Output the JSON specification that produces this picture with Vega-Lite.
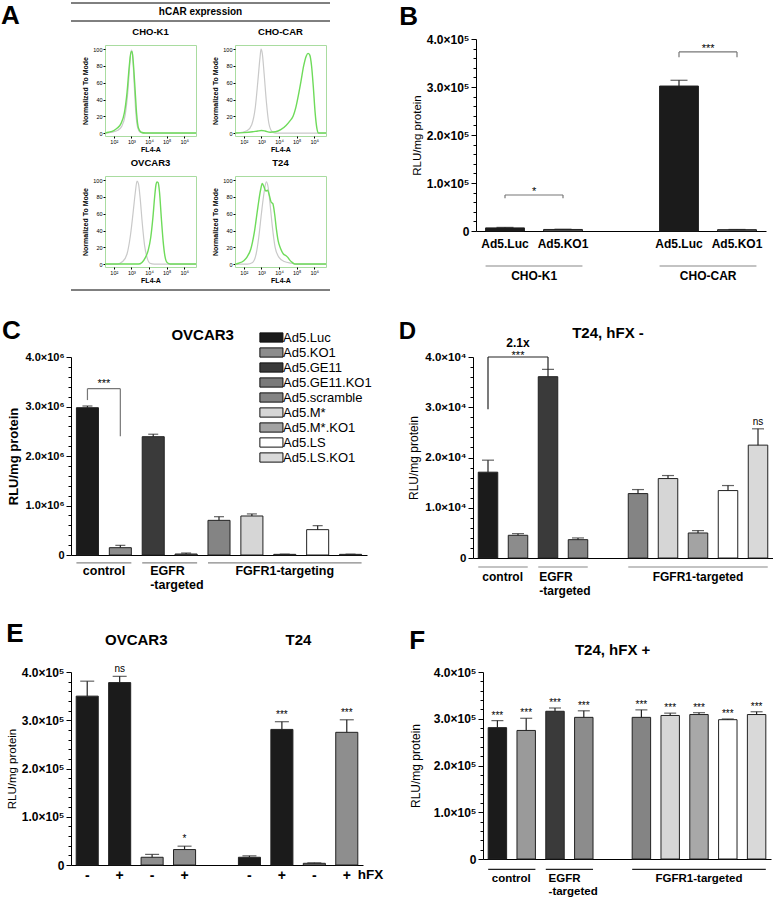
{
  "$schema": "https://vega.github.io/schema/vega-lite/v6.json",
  "padding": {"top": 2, "left": 0, "right": 0, "bottom": 0},
  "background": "white",
  "config": {
    "font": "Liberation Sans",
    "view": {"stroke": null},
    "axis": {"grid": false, "domainColor": "#000", "tickColor": "#000", "labelColor": "#000", "titleColor": "#000", "labelFontWeight": "bold", "titleFontWeight": "normal", "domainWidth": 1, "tickWidth": 1},
    "title": {"fontWeight": "bold", "color": "#000"},
    "text": {"color": "#000"}
  },
  "datasets": {
    "header": [{"label": "hCAR expression"}],
    "hist": [
      {"cell":"CHO-K1","stain":"isotype","log10_FL4A":1.5,"pct":0},{"cell":"CHO-K1","stain":"isotype","log10_FL4A":1.9,"pct":1},{"cell":"CHO-K1","stain":"isotype","log10_FL4A":2.2,"pct":3},{"cell":"CHO-K1","stain":"isotype","log10_FL4A":2.45,"pct":8},{"cell":"CHO-K1","stain":"isotype","log10_FL4A":2.65,"pct":22},{"cell":"CHO-K1","stain":"isotype","log10_FL4A":2.8,"pct":50},{"cell":"CHO-K1","stain":"isotype","log10_FL4A":2.92,"pct":85},{"cell":"CHO-K1","stain":"isotype","log10_FL4A":3.0,"pct":99},{"cell":"CHO-K1","stain":"isotype","log10_FL4A":3.06,"pct":95},{"cell":"CHO-K1","stain":"isotype","log10_FL4A":3.15,"pct":62},{"cell":"CHO-K1","stain":"isotype","log10_FL4A":3.25,"pct":25},{"cell":"CHO-K1","stain":"isotype","log10_FL4A":3.35,"pct":7},{"cell":"CHO-K1","stain":"isotype","log10_FL4A":3.5,"pct":1},{"cell":"CHO-K1","stain":"isotype","log10_FL4A":3.8,"pct":0},{"cell":"CHO-K1","stain":"isotype","log10_FL4A":6.67,"pct":0},
      {"cell":"CHO-K1","stain":"hCAR","log10_FL4A":1.5,"pct":0},{"cell":"CHO-K1","stain":"hCAR","log10_FL4A":1.7,"pct":1},{"cell":"CHO-K1","stain":"hCAR","log10_FL4A":2.0,"pct":3},{"cell":"CHO-K1","stain":"hCAR","log10_FL4A":2.2,"pct":6},{"cell":"CHO-K1","stain":"hCAR","log10_FL4A":2.4,"pct":11},{"cell":"CHO-K1","stain":"hCAR","log10_FL4A":2.6,"pct":24},{"cell":"CHO-K1","stain":"hCAR","log10_FL4A":2.75,"pct":48},{"cell":"CHO-K1","stain":"hCAR","log10_FL4A":2.88,"pct":80},{"cell":"CHO-K1","stain":"hCAR","log10_FL4A":2.98,"pct":97},{"cell":"CHO-K1","stain":"hCAR","log10_FL4A":3.04,"pct":97},{"cell":"CHO-K1","stain":"hCAR","log10_FL4A":3.1,"pct":86},{"cell":"CHO-K1","stain":"hCAR","log10_FL4A":3.2,"pct":55},{"cell":"CHO-K1","stain":"hCAR","log10_FL4A":3.3,"pct":22},{"cell":"CHO-K1","stain":"hCAR","log10_FL4A":3.4,"pct":6},{"cell":"CHO-K1","stain":"hCAR","log10_FL4A":3.55,"pct":1},{"cell":"CHO-K1","stain":"hCAR","log10_FL4A":3.8,"pct":0},{"cell":"CHO-K1","stain":"hCAR","log10_FL4A":6.67,"pct":0},
      {"cell":"CHO-CAR","stain":"isotype","log10_FL4A":1.5,"pct":0},{"cell":"CHO-CAR","stain":"isotype","log10_FL4A":1.9,"pct":1},{"cell":"CHO-CAR","stain":"isotype","log10_FL4A":2.2,"pct":3},{"cell":"CHO-CAR","stain":"isotype","log10_FL4A":2.45,"pct":10},{"cell":"CHO-CAR","stain":"isotype","log10_FL4A":2.65,"pct":30},{"cell":"CHO-CAR","stain":"isotype","log10_FL4A":2.8,"pct":62},{"cell":"CHO-CAR","stain":"isotype","log10_FL4A":2.92,"pct":90},{"cell":"CHO-CAR","stain":"isotype","log10_FL4A":2.98,"pct":100},{"cell":"CHO-CAR","stain":"isotype","log10_FL4A":3.05,"pct":95},{"cell":"CHO-CAR","stain":"isotype","log10_FL4A":3.15,"pct":72},{"cell":"CHO-CAR","stain":"isotype","log10_FL4A":3.28,"pct":38},{"cell":"CHO-CAR","stain":"isotype","log10_FL4A":3.42,"pct":12},{"cell":"CHO-CAR","stain":"isotype","log10_FL4A":3.6,"pct":2},{"cell":"CHO-CAR","stain":"isotype","log10_FL4A":3.8,"pct":0},{"cell":"CHO-CAR","stain":"isotype","log10_FL4A":6.67,"pct":0},
      {"cell":"CHO-CAR","stain":"hCAR","log10_FL4A":1.5,"pct":0},{"cell":"CHO-CAR","stain":"hCAR","log10_FL4A":2.0,"pct":0.5},{"cell":"CHO-CAR","stain":"hCAR","log10_FL4A":2.5,"pct":1.5},{"cell":"CHO-CAR","stain":"hCAR","log10_FL4A":2.8,"pct":2.5},{"cell":"CHO-CAR","stain":"hCAR","log10_FL4A":3.0,"pct":3},{"cell":"CHO-CAR","stain":"hCAR","log10_FL4A":3.2,"pct":2.5},{"cell":"CHO-CAR","stain":"hCAR","log10_FL4A":3.5,"pct":1},{"cell":"CHO-CAR","stain":"hCAR","log10_FL4A":3.8,"pct":1.5},{"cell":"CHO-CAR","stain":"hCAR","log10_FL4A":4.1,"pct":4},{"cell":"CHO-CAR","stain":"hCAR","log10_FL4A":4.4,"pct":9},{"cell":"CHO-CAR","stain":"hCAR","log10_FL4A":4.6,"pct":14},{"cell":"CHO-CAR","stain":"hCAR","log10_FL4A":4.8,"pct":20},{"cell":"CHO-CAR","stain":"hCAR","log10_FL4A":4.95,"pct":30},{"cell":"CHO-CAR","stain":"hCAR","log10_FL4A":5.1,"pct":45},{"cell":"CHO-CAR","stain":"hCAR","log10_FL4A":5.25,"pct":62},{"cell":"CHO-CAR","stain":"hCAR","log10_FL4A":5.4,"pct":80},{"cell":"CHO-CAR","stain":"hCAR","log10_FL4A":5.55,"pct":92},{"cell":"CHO-CAR","stain":"hCAR","log10_FL4A":5.65,"pct":95},{"cell":"CHO-CAR","stain":"hCAR","log10_FL4A":5.75,"pct":93},{"cell":"CHO-CAR","stain":"hCAR","log10_FL4A":5.85,"pct":80},{"cell":"CHO-CAR","stain":"hCAR","log10_FL4A":5.95,"pct":55},{"cell":"CHO-CAR","stain":"hCAR","log10_FL4A":6.05,"pct":25},{"cell":"CHO-CAR","stain":"hCAR","log10_FL4A":6.15,"pct":6},{"cell":"CHO-CAR","stain":"hCAR","log10_FL4A":6.25,"pct":0},{"cell":"CHO-CAR","stain":"hCAR","log10_FL4A":6.67,"pct":0},
      {"cell":"OVCAR3","stain":"isotype","log10_FL4A":1.5,"pct":0},{"cell":"OVCAR3","stain":"isotype","log10_FL4A":2.2,"pct":0},{"cell":"OVCAR3","stain":"isotype","log10_FL4A":2.5,"pct":3},{"cell":"OVCAR3","stain":"isotype","log10_FL4A":2.75,"pct":12},{"cell":"OVCAR3","stain":"isotype","log10_FL4A":2.95,"pct":35},{"cell":"OVCAR3","stain":"isotype","log10_FL4A":3.1,"pct":62},{"cell":"OVCAR3","stain":"isotype","log10_FL4A":3.22,"pct":85},{"cell":"OVCAR3","stain":"isotype","log10_FL4A":3.32,"pct":99},{"cell":"OVCAR3","stain":"isotype","log10_FL4A":3.4,"pct":96},{"cell":"OVCAR3","stain":"isotype","log10_FL4A":3.5,"pct":78},{"cell":"OVCAR3","stain":"isotype","log10_FL4A":3.62,"pct":48},{"cell":"OVCAR3","stain":"isotype","log10_FL4A":3.75,"pct":22},{"cell":"OVCAR3","stain":"isotype","log10_FL4A":3.9,"pct":7},{"cell":"OVCAR3","stain":"isotype","log10_FL4A":4.05,"pct":1},{"cell":"OVCAR3","stain":"isotype","log10_FL4A":4.3,"pct":0},{"cell":"OVCAR3","stain":"isotype","log10_FL4A":6.67,"pct":0},
      {"cell":"OVCAR3","stain":"hCAR","log10_FL4A":1.5,"pct":0},{"cell":"OVCAR3","stain":"hCAR","log10_FL4A":3.4,"pct":0},{"cell":"OVCAR3","stain":"hCAR","log10_FL4A":3.6,"pct":2},{"cell":"OVCAR3","stain":"hCAR","log10_FL4A":3.8,"pct":8},{"cell":"OVCAR3","stain":"hCAR","log10_FL4A":3.95,"pct":16},{"cell":"OVCAR3","stain":"hCAR","log10_FL4A":4.1,"pct":32},{"cell":"OVCAR3","stain":"hCAR","log10_FL4A":4.22,"pct":55},{"cell":"OVCAR3","stain":"hCAR","log10_FL4A":4.32,"pct":80},{"cell":"OVCAR3","stain":"hCAR","log10_FL4A":4.4,"pct":95},{"cell":"OVCAR3","stain":"hCAR","log10_FL4A":4.45,"pct":98},{"cell":"OVCAR3","stain":"hCAR","log10_FL4A":4.52,"pct":97},{"cell":"OVCAR3","stain":"hCAR","log10_FL4A":4.6,"pct":85},{"cell":"OVCAR3","stain":"hCAR","log10_FL4A":4.7,"pct":55},{"cell":"OVCAR3","stain":"hCAR","log10_FL4A":4.8,"pct":28},{"cell":"OVCAR3","stain":"hCAR","log10_FL4A":4.9,"pct":10},{"cell":"OVCAR3","stain":"hCAR","log10_FL4A":5.02,"pct":2},{"cell":"OVCAR3","stain":"hCAR","log10_FL4A":5.2,"pct":0},{"cell":"OVCAR3","stain":"hCAR","log10_FL4A":6.67,"pct":0},
      {"cell":"T24","stain":"isotype","log10_FL4A":1.5,"pct":0},{"cell":"T24","stain":"isotype","log10_FL4A":2.2,"pct":0},{"cell":"T24","stain":"isotype","log10_FL4A":2.5,"pct":2},{"cell":"T24","stain":"isotype","log10_FL4A":2.7,"pct":12},{"cell":"T24","stain":"isotype","log10_FL4A":2.85,"pct":32},{"cell":"T24","stain":"isotype","log10_FL4A":3.0,"pct":60},{"cell":"T24","stain":"isotype","log10_FL4A":3.15,"pct":85},{"cell":"T24","stain":"isotype","log10_FL4A":3.28,"pct":98},{"cell":"T24","stain":"isotype","log10_FL4A":3.38,"pct":92},{"cell":"T24","stain":"isotype","log10_FL4A":3.5,"pct":70},{"cell":"T24","stain":"isotype","log10_FL4A":3.62,"pct":45},{"cell":"T24","stain":"isotype","log10_FL4A":3.78,"pct":20},{"cell":"T24","stain":"isotype","log10_FL4A":4.0,"pct":8},{"cell":"T24","stain":"isotype","log10_FL4A":4.3,"pct":3},{"cell":"T24","stain":"isotype","log10_FL4A":4.7,"pct":1},{"cell":"T24","stain":"isotype","log10_FL4A":5.0,"pct":0},{"cell":"T24","stain":"isotype","log10_FL4A":6.67,"pct":0},
      {"cell":"T24","stain":"hCAR","log10_FL4A":1.5,"pct":0},{"cell":"T24","stain":"hCAR","log10_FL4A":1.7,"pct":1},{"cell":"T24","stain":"hCAR","log10_FL4A":2.0,"pct":4},{"cell":"T24","stain":"hCAR","log10_FL4A":2.2,"pct":9},{"cell":"T24","stain":"hCAR","log10_FL4A":2.4,"pct":18},{"cell":"T24","stain":"hCAR","log10_FL4A":2.6,"pct":38},{"cell":"T24","stain":"hCAR","log10_FL4A":2.8,"pct":68},{"cell":"T24","stain":"hCAR","log10_FL4A":2.95,"pct":88},{"cell":"T24","stain":"hCAR","log10_FL4A":3.05,"pct":96},{"cell":"T24","stain":"hCAR","log10_FL4A":3.15,"pct":92},{"cell":"T24","stain":"hCAR","log10_FL4A":3.25,"pct":87},{"cell":"T24","stain":"hCAR","log10_FL4A":3.35,"pct":88},{"cell":"T24","stain":"hCAR","log10_FL4A":3.45,"pct":82},{"cell":"T24","stain":"hCAR","log10_FL4A":3.55,"pct":74},{"cell":"T24","stain":"hCAR","log10_FL4A":3.65,"pct":72},{"cell":"T24","stain":"hCAR","log10_FL4A":3.75,"pct":60},{"cell":"T24","stain":"hCAR","log10_FL4A":3.85,"pct":42},{"cell":"T24","stain":"hCAR","log10_FL4A":3.95,"pct":28},{"cell":"T24","stain":"hCAR","log10_FL4A":4.1,"pct":18},{"cell":"T24","stain":"hCAR","log10_FL4A":4.25,"pct":12},{"cell":"T24","stain":"hCAR","log10_FL4A":4.4,"pct":10},{"cell":"T24","stain":"hCAR","log10_FL4A":4.5,"pct":8},{"cell":"T24","stain":"hCAR","log10_FL4A":4.6,"pct":5},{"cell":"T24","stain":"hCAR","log10_FL4A":4.75,"pct":2},{"cell":"T24","stain":"hCAR","log10_FL4A":4.9,"pct":0},{"cell":"T24","stain":"hCAR","log10_FL4A":6.67,"pct":0}
    ],
    "bBars": [
      {"key":"CHO-K1|Ad5.Luc","virus":"Ad5.Luc","value":6500,"upper":7500},
      {"key":"CHO-K1|Ad5.KO1","virus":"Ad5.KO1","value":3200,"upper":3700},
      {"key":"CHO-CAR|Ad5.Luc","virus":"Ad5.Luc","value":302000,"upper":314000},
      {"key":"CHO-CAR|Ad5.KO1","virus":"Ad5.KO1","value":2800,"upper":3200}
    ],
    "bBrackets": [
      {"x1":"CHO-K1|Ad5.Luc","x2":"CHO-K1|Ad5.KO1","top":75000,"left":68000,"right":68000,"label":"*"},
      {"x1":"CHO-CAR|Ad5.Luc","x2":"CHO-CAR|Ad5.KO1","top":373000,"left":362000,"right":362000,"label":"***"}
    ],
    "bGroups": [
      {"start":"CHO-K1|Ad5.Luc","end":"CHO-K1|Ad5.KO1","label":"CHO-K1"},
      {"start":"CHO-CAR|Ad5.Luc","end":"CHO-CAR|Ad5.KO1","label":"CHO-CAR"}
    ],
    "cBars": [
      {"virus":"Ad5.Luc","value":2976000,"upper":3010000},
      {"virus":"Ad5.KO1","value":148000,"upper":195000},
      {"virus":"Ad5.GE11","value":2390000,"upper":2440000},
      {"virus":"Ad5.GE11.KO1","value":20000,"upper":40000},
      {"virus":"Ad5.scramble","value":700000,"upper":774000},
      {"virus":"Ad5.M*","value":788000,"upper":830000},
      {"virus":"Ad5.M*.KO1","value":13000,"upper":18000},
      {"virus":"Ad5.LS","value":512000,"upper":593000},
      {"virus":"Ad5.LS.KO1","value":13000,"upper":17000}
    ],
    "cBrackets": [
      {"x1":"Ad5.Luc","x2":"Ad5.KO1","top":3360000,"left":3130000,"right":2400000,"label":"***"}
    ],
    "cGroups": [
      {"start":"Ad5.Luc","end":"Ad5.KO1","at":"Ad5.Luc","label":"control","kind":"pair"},
      {"start":"Ad5.GE11","end":"Ad5.GE11.KO1","at":"Ad5.GE11","label":"EGFR\n-targeted","kind":"left"},
      {"start":"Ad5.scramble","end":"Ad5.LS.KO1","at":"Ad5.M*.KO1","label":"FGFR1-targeting","kind":"mid"}
    ],
    "dBars": [
      {"virus":"Ad5.Luc","value":17080,"upper":19470,"sig":""},
      {"virus":"Ad5.KO1","value":4520,"upper":4850,"sig":""},
      {"virus":"Ad5.GE11","value":36080,"upper":37540,"sig":""},
      {"virus":"Ad5.GE11.KO1","value":3650,"upper":3990,"sig":""},
      {"virus":"Ad5.scramble","value":12820,"upper":13620,"sig":""},
      {"virus":"Ad5.M*","value":15810,"upper":16410,"sig":""},
      {"virus":"Ad5.M*.KO1","value":4980,"upper":5450,"sig":""},
      {"virus":"Ad5.LS","value":13420,"upper":14420,"sig":""},
      {"virus":"Ad5.LS.KO1","value":22460,"upper":25710,"sig":"ns"}
    ],
    "dBrackets": [
      {"x1":"Ad5.Luc","x2":"Ad5.GE11","mid":"Ad5.KO1","top":40000,"left":29600,"right":37500,"label":"***","note":"2.1x"}
    ],
    "dGroups": [
      {"start":"Ad5.Luc","end":"Ad5.KO1","at":"Ad5.Luc","label":"control","kind":"pair"},
      {"start":"Ad5.GE11","end":"Ad5.GE11.KO1","at":"Ad5.GE11","label":"EGFR\n-targeted","kind":"left"},
      {"start":"Ad5.scramble","end":"Ad5.LS.KO1","at":"Ad5.M*.KO1","label":"FGFR1-targeted","kind":"mid"}
    ],
    "eBars": [
      {"key":"OVCAR3|Ad5.Luc|-","virus":"Ad5.Luc","value":350000,"upper":381000,"sig":""},
      {"key":"OVCAR3|Ad5.Luc|+","virus":"Ad5.Luc","value":378000,"upper":391000,"sig":"ns"},
      {"key":"OVCAR3|Ad5.KO1|-","virus":"Ad5.KO1","value":16000,"upper":22000,"sig":""},
      {"key":"OVCAR3|Ad5.KO1|+","virus":"Ad5.KO1","value":32000,"upper":39000,"sig":"*"},
      {"key":"T24|Ad5.Luc|-","virus":"Ad5.Luc","value":16000,"upper":19000,"sig":""},
      {"key":"T24|Ad5.Luc|+","virus":"Ad5.Luc","value":281000,"upper":297000,"sig":"***"},
      {"key":"T24|Ad5.KO1|-","virus":"Ad5.KO1","value":3500,"upper":4500,"sig":""},
      {"key":"T24|Ad5.KO1|+","virus":"Ad5.KO1","value":275000,"upper":301000,"sig":"***"}
    ],
    "fBars": [
      {"virus":"Ad5.Luc","value":281000,"upper":296000,"sig":"***"},
      {"virus":"Ad5.KO1","value":275000,"upper":301000,"sig":"***"},
      {"virus":"Ad5.GE11","value":316000,"upper":323000,"sig":"***"},
      {"virus":"Ad5.GE11.KO1","value":303000,"upper":317000,"sig":"***"},
      {"virus":"Ad5.scramble","value":303000,"upper":319000,"sig":"***"},
      {"virus":"Ad5.M*","value":307000,"upper":312000,"sig":"***"},
      {"virus":"Ad5.M*.KO1","value":309000,"upper":313000,"sig":"***"},
      {"virus":"Ad5.LS","value":298000,"upper":299500,"sig":"***"},
      {"virus":"Ad5.LS.KO1","value":309000,"upper":315000,"sig":"***"}
    ],
    "fGroups": [
      {"start":"Ad5.Luc","end":"Ad5.KO1","at":"Ad5.Luc","label":"control","kind":"pair"},
      {"start":"Ad5.GE11","end":"Ad5.GE11.KO1","at":"Ad5.GE11","label":"EGFR\n-targeted","kind":"left"},
      {"start":"Ad5.scramble","end":"Ad5.LS.KO1","at":"Ad5.M*.KO1","label":"FGFR1-targeted","kind":"mid"}
    ]
  },
  "spacing": 27,
  "resolve": {"scale": {"color": "independent"}, "legend": {"color": "independent"}},
  "vconcat": [
    {
      "spacing": 68,
      "resolve": {"scale": {"color": "independent"}, "legend": {"color": "independent"}},
      "hconcat": [
        {
          "title": {"text": "A", "orient": "left", "anchor": "end", "angle": 0, "align": "right", "baseline": "top", "offset": 32, "fontSize": 26},
          "spacing": 4,
          "vconcat": [
            {
              "width": 259, "height": 18,
              "data": {"name": "header"},
              "layer": [
                {"mark": {"type": "rule", "color": "#000", "strokeWidth": 1}, "encoding": {"y": {"datum": 1, "type": "quantitative", "scale": {"domain": [0, 1], "nice": false}, "axis": null}}},
                {"mark": {"type": "rule", "color": "#000", "strokeWidth": 1}, "encoding": {"y": {"datum": 0, "type": "quantitative", "axis": null}}},
                {"mark": {"type": "text", "fontSize": 10, "fontWeight": "bold", "baseline": "middle"}, "encoding": {"y": {"datum": 0.5, "type": "quantitative", "axis": null}, "text": {"field": "label"}}}
              ]
            },
            {
              "spacing": 0,
              "hconcat": [
                {"width": 10, "height": 1, "data": {"name": "header"}, "mark": {"type": "rule", "strokeOpacity": 0}, "encoding": {"y": {"datum": 0, "type": "quantitative", "scale": {"domain": [0, 1]}, "axis": null}}},
                {
                  "width": 91, "height": 91,
                  "view": {"stroke": "#a9dca0", "strokeWidth": 1},
                  "title": {"text": "CHO-K1", "fontSize": 9.5, "offset": 9},
                  "data": {"name": "hist"},
                  "transform": [{"filter": "datum.cell == 'CHO-K1'"}],
                  "encoding": {
                    "x": {"field": "log10_FL4A", "type": "quantitative", "scale": {"domain": [1.5, 6.67], "nice": false, "zero": false}, "axis": {"values": [2,3,4,5,6], "labelExpr": "'10' + ['⁰','¹','²','³','⁴','⁵','⁶'][datum.value]", "labelFontSize": 5.5, "labelFontWeight": "normal", "labelOverlap": false, "tickSize": 2, "labelPadding": 1, "domain": false, "title": "FL4-A", "titleFontSize": 7, "titleFontWeight": "bold", "titlePadding": 1}},
                    "y": {"field": "pct", "type": "quantitative", "scale": {"domain": [-3.5, 105], "nice": false, "zero": false}, "axis": {"values": [0,20,40,60,80,100], "labelFontSize": 5.5, "labelFontWeight": "normal", "labelOverlap": false, "tickSize": 2, "labelPadding": 1, "domain": false, "title": "Normalized To Mode", "titleFontSize": 7, "titleFontWeight": "bold", "titlePadding": 4}}
                  },
                  "layer": [
                    {"transform": [{"filter": "datum.stain == 'isotype'"}], "mark": {"type": "line", "color": "#c9c9c9", "strokeWidth": 1.2, "interpolate": "monotone"}},
                    {"transform": [{"filter": "datum.stain == 'hCAR'"}], "mark": {"type": "line", "color": "#6edb5a", "strokeWidth": 1.4, "interpolate": "monotone"}}
                  ]
                },
                {"width": 11, "height": 1, "data": {"name": "header"}, "mark": {"type": "rule", "strokeOpacity": 0}, "encoding": {"y": {"datum": 0, "type": "quantitative", "scale": {"domain": [0, 1]}, "axis": null}}},
                {
                  "width": 91, "height": 91,
                  "view": {"stroke": "#a9dca0", "strokeWidth": 1},
                  "title": {"text": "CHO-CAR", "fontSize": 9.5, "offset": 9},
                  "data": {"name": "hist"},
                  "transform": [{"filter": "datum.cell == 'CHO-CAR'"}],
                  "encoding": {
                    "x": {"field": "log10_FL4A", "type": "quantitative", "scale": {"domain": [1.5, 6.67], "nice": false, "zero": false}, "axis": {"values": [2,3,4,5,6], "labelExpr": "'10' + ['⁰','¹','²','³','⁴','⁵','⁶'][datum.value]", "labelFontSize": 5.5, "labelFontWeight": "normal", "labelOverlap": false, "tickSize": 2, "labelPadding": 1, "domain": false, "title": "FL4-A", "titleFontSize": 7, "titleFontWeight": "bold", "titlePadding": 1}},
                    "y": {"field": "pct", "type": "quantitative", "scale": {"domain": [-3.5, 105], "nice": false, "zero": false}, "axis": {"values": [0,20,40,60,80,100], "labelFontSize": 5.5, "labelFontWeight": "normal", "labelOverlap": false, "tickSize": 2, "labelPadding": 1, "domain": false, "title": "Normalized To Mode", "titleFontSize": 7, "titleFontWeight": "bold", "titlePadding": 4}}
                  },
                  "layer": [
                    {"transform": [{"filter": "datum.stain == 'isotype'"}], "mark": {"type": "line", "color": "#c9c9c9", "strokeWidth": 1.2, "interpolate": "monotone"}},
                    {"transform": [{"filter": "datum.stain == 'hCAR'"}], "mark": {"type": "line", "color": "#6edb5a", "strokeWidth": 1.4, "interpolate": "monotone"}}
                  ]
                }
              ]
            },
            {
              "spacing": 0,
              "hconcat": [
                {"width": 10, "height": 1, "data": {"name": "header"}, "mark": {"type": "rule", "strokeOpacity": 0}, "encoding": {"y": {"datum": 0, "type": "quantitative", "scale": {"domain": [0, 1]}, "axis": null}}},
                {
                  "width": 91, "height": 91,
                  "view": {"stroke": "#a9dca0", "strokeWidth": 1},
                  "title": {"text": "OVCAR3", "fontSize": 9.5, "offset": 9},
                  "data": {"name": "hist"},
                  "transform": [{"filter": "datum.cell == 'OVCAR3'"}],
                  "encoding": {
                    "x": {"field": "log10_FL4A", "type": "quantitative", "scale": {"domain": [1.5, 6.67], "nice": false, "zero": false}, "axis": {"values": [2,3,4,5,6], "labelExpr": "'10' + ['⁰','¹','²','³','⁴','⁵','⁶'][datum.value]", "labelFontSize": 5.5, "labelFontWeight": "normal", "labelOverlap": false, "tickSize": 2, "labelPadding": 1, "domain": false, "title": "FL4-A", "titleFontSize": 7, "titleFontWeight": "bold", "titlePadding": 1}},
                    "y": {"field": "pct", "type": "quantitative", "scale": {"domain": [-3.5, 105], "nice": false, "zero": false}, "axis": {"values": [0,20,40,60,80,100], "labelFontSize": 5.5, "labelFontWeight": "normal", "labelOverlap": false, "tickSize": 2, "labelPadding": 1, "domain": false, "title": "Normalized To Mode", "titleFontSize": 7, "titleFontWeight": "bold", "titlePadding": 4}}
                  },
                  "layer": [
                    {"transform": [{"filter": "datum.stain == 'isotype'"}], "mark": {"type": "line", "color": "#c9c9c9", "strokeWidth": 1.2, "interpolate": "monotone"}},
                    {"transform": [{"filter": "datum.stain == 'hCAR'"}], "mark": {"type": "line", "color": "#6edb5a", "strokeWidth": 1.4, "interpolate": "monotone"}}
                  ]
                },
                {"width": 11, "height": 1, "data": {"name": "header"}, "mark": {"type": "rule", "strokeOpacity": 0}, "encoding": {"y": {"datum": 0, "type": "quantitative", "scale": {"domain": [0, 1]}, "axis": null}}},
                {
                  "width": 91, "height": 91,
                  "view": {"stroke": "#a9dca0", "strokeWidth": 1},
                  "title": {"text": "T24", "fontSize": 9.5, "offset": 9},
                  "data": {"name": "hist"},
                  "transform": [{"filter": "datum.cell == 'T24'"}],
                  "encoding": {
                    "x": {"field": "log10_FL4A", "type": "quantitative", "scale": {"domain": [1.5, 6.67], "nice": false, "zero": false}, "axis": {"values": [2,3,4,5,6], "labelExpr": "'10' + ['⁰','¹','²','³','⁴','⁵','⁶'][datum.value]", "labelFontSize": 5.5, "labelFontWeight": "normal", "labelOverlap": false, "tickSize": 2, "labelPadding": 1, "domain": false, "title": "FL4-A", "titleFontSize": 7, "titleFontWeight": "bold", "titlePadding": 1}},
                    "y": {"field": "pct", "type": "quantitative", "scale": {"domain": [-3.5, 105], "nice": false, "zero": false}, "axis": {"values": [0,20,40,60,80,100], "labelFontSize": 5.5, "labelFontWeight": "normal", "labelOverlap": false, "tickSize": 2, "labelPadding": 1, "domain": false, "title": "Normalized To Mode", "titleFontSize": 7, "titleFontWeight": "bold", "titlePadding": 4}}
                  },
                  "layer": [
                    {"transform": [{"filter": "datum.stain == 'isotype'"}], "mark": {"type": "line", "color": "#c9c9c9", "strokeWidth": 1.2, "interpolate": "monotone"}},
                    {"transform": [{"filter": "datum.stain == 'hCAR'"}], "mark": {"type": "line", "color": "#6edb5a", "strokeWidth": 1.4, "interpolate": "monotone"}}
                  ]
                }
              ]
            },
            {
              "width": 259, "height": 2,
              "data": {"name": "header"},
              "mark": {"type": "rule", "color": "#000", "strokeWidth": 1},
              "encoding": {"y": {"datum": 0, "type": "quantitative", "scale": {"domain": [0, 1], "nice": false}, "axis": null}}
            }
          ]
        },
        {
          "spacing": 0,
          "resolve": {"scale": {"color": "independent"}, "legend": {"color": "independent"}},
          "vconcat": [
            {
              "width": 290, "height": 1,
              "data": {"name": "header"},
              "mark": {"type": "rule", "strokeOpacity": 0},
              "encoding": {"y": {"datum": 0, "type": "quantitative", "scale": {"domain": [0, 1]}, "axis": null}}
            },
            {
              "width": 290, "height": 192,
              "title": {"text": "B", "anchor": "start", "frame": "bounds", "fontSize": 26, "offset": 3, "dx": -12},
              "resolve": {"axis": {"y": "independent"}},
              "layer": [
                {"data": {"name": "bBars"}, "mark": {"type": "bar", "stroke": "#222", "strokeWidth": 1},
                 "encoding": {
                   "x": {"field": "key", "type": "nominal", "scale": {"domain": ["CHO-K1|Ad5.Luc","CHO-K1|Ad5.KO1","gap","CHO-CAR|Ad5.Luc","CHO-CAR|Ad5.KO1"], "paddingInner": 0.33, "paddingOuter": 0.165}, "axis": {"title": null, "ticks": false, "labelAngle": 0, "labelExpr": "datum.label == 'gap' ? '' : split(datum.label, '|')[1]", "labelFontSize": 12, "labelPadding": 7}},
                   "y": {"field": "value", "type": "quantitative", "scale": {"domain": [0, 400000], "nice": false}, "axis": {"orient": "left", "title": "RLU/mg protein", "titleFontSize": 11.5, "titleFontWeight": "normal", "values": [0,100000,200000,300000,400000], "labelExpr": "datum.value == 0 ? '0' : format(datum.value / 100000, '.1f') + '×10⁵'", "labelFontSize": 12, "labelOverlap": false, "tickSize": 5}},
                   "color": {"field": "virus", "type": "nominal", "scale": {"domain": ["Ad5.Luc","Ad5.KO1","Ad5.GE11","Ad5.GE11.KO1","Ad5.scramble","Ad5.M*","Ad5.M*.KO1","Ad5.LS","Ad5.LS.KO1"], "range": ["#1b1b1b","#7d7d7d","#3a3a3a","#7a7a7a","#848484","#d6d6d6","#a3a3a3","#ffffff","#d9d9d9"]}, "legend": null}
                 }},
                {"data": {"name": "bBars"}, "mark": {"type": "rule", "color": "#222", "strokeWidth": 1.2},
                 "encoding": {"x": {"field": "key", "type": "nominal"}, "y": {"field": "value", "type": "quantitative", "axis": {"orient": "left", "title": null, "labels": false, "domain": false, "tickSize": 3, "values": [20000,40000,60000,80000,120000,140000,160000,180000,220000,240000,260000,280000,320000,340000,360000,380000]}}, "y2": {"field": "upper"}}},
                {"data": {"name": "bBars"}, "mark": {"type": "tick", "color": "#222", "size": 17, "thickness": 1.2},
                 "encoding": {"x": {"field": "key", "type": "nominal"}, "y": {"field": "upper", "type": "quantitative", "axis": null}}},
                {"data": {"name": "bBrackets"}, "mark": {"type": "rule", "color": "#777", "strokeWidth": 1.2},
                 "encoding": {"x": {"field": "x1", "type": "nominal"}, "x2": {"field": "x2"}, "y": {"field": "top", "type": "quantitative", "axis": null}}},
                {"data": {"name": "bBrackets"}, "mark": {"type": "rule", "color": "#777", "strokeWidth": 1.2},
                 "encoding": {"x": {"field": "x1", "type": "nominal"}, "y": {"field": "left", "type": "quantitative", "axis": null}, "y2": {"field": "top"}}},
                {"data": {"name": "bBrackets"}, "mark": {"type": "rule", "color": "#777", "strokeWidth": 1.2},
                 "encoding": {"x": {"field": "x2", "type": "nominal"}, "y": {"field": "right", "type": "quantitative", "axis": null}, "y2": {"field": "top"}}},
                {"data": {"name": "bBrackets"}, "mark": {"type": "text", "fontSize": 11, "baseline": "bottom", "dy": 2},
                 "encoding": {"x": {"field": "x1", "type": "nominal", "bandPosition": 1.25}, "y": {"field": "top", "type": "quantitative", "axis": null}, "text": {"field": "label"}}},
                {"data": {"name": "bGroups"}, "mark": {"type": "rule", "color": "#888", "strokeWidth": 1.2},
                 "encoding": {"x": {"field": "start", "type": "nominal", "bandPosition": 0}, "x2": {"field": "end", "bandPosition": 1}, "y": {"datum": -72900, "type": "quantitative", "axis": null}}},
                {"data": {"name": "bGroups"}, "mark": {"type": "text", "fontSize": 12, "fontWeight": "bold", "baseline": "top"},
                 "encoding": {"x": {"field": "start", "type": "nominal", "bandPosition": 1.25}, "y": {"datum": -83300, "type": "quantitative", "axis": null}, "text": {"field": "label"}}}
              ]
            }
          ]
        }
      ]
    },
    {
      "spacing": 23,
      "resolve": {"scale": {"color": "independent"}, "legend": {"color": "independent"}},
      "vconcat": [
        {
          "spacing": 26,
          "resolve": {"scale": {"color": "independent"}, "legend": {"color": "independent"}},
          "hconcat": [
            {
              "width": 296, "height": 198,
              "title": {"text": "C", "anchor": "start", "frame": "bounds", "fontSize": 26, "offset": 0, "dy": 16, "dx": -6},
              "resolve": {"axis": {"y": "independent"}},
              "layer": [
                {"data": {"name": "cBars"}, "mark": {"type": "bar", "stroke": "#222", "strokeWidth": 1},
                 "encoding": {
                   "x": {"field": "virus", "type": "nominal", "scale": {"domain": ["Ad5.Luc","Ad5.KO1","Ad5.GE11","Ad5.GE11.KO1","Ad5.scramble","Ad5.M*","Ad5.M*.KO1","Ad5.LS","Ad5.LS.KO1"], "paddingInner": 0.33, "paddingOuter": 0.165}, "axis": {"title": null, "ticks": false, "labels": false}},
                   "y": {"field": "value", "type": "quantitative", "scale": {"domain": [0, 4000000], "nice": false}, "axis": {"orient": "left", "title": "RLU/mg protein", "titleFontSize": 13, "titleFontWeight": "bold", "values": [0,1000000,2000000,3000000,4000000], "labelExpr": "datum.value == 0 ? '0' : format(datum.value / 1000000, '.1f') + '×10⁶'", "labelFontSize": 11, "labelOverlap": false, "tickSize": 5}},
                   "color": {"field": "virus", "type": "nominal", "scale": {"domain": ["Ad5.Luc","Ad5.KO1","Ad5.GE11","Ad5.GE11.KO1","Ad5.scramble","Ad5.M*","Ad5.M*.KO1","Ad5.LS","Ad5.LS.KO1"], "range": ["#1b1b1b","#8c8c8c","#3a3a3a","#7a7a7a","#848484","#d6d6d6","#a3a3a3","#ffffff","#d9d9d9"]},
                     "legend": {"title": null, "orient": "none", "legendX": 187, "legendY": -26, "symbolType": "M-1,-1H4V1H-1Z", "symbolSize": 85, "symbolStrokeColor": "#111", "symbolStrokeWidth": 1, "labelFontSize": 13, "labelFontWeight": "normal", "labelColor": "#000", "rowPadding": 0, "labelOffset": 12, "padding": 0, "labelLimit": 200}}
                 }},
                {"data": {"name": "cBars"}, "mark": {"type": "rule", "color": "#222", "strokeWidth": 1.2},
                 "encoding": {"x": {"field": "virus", "type": "nominal"}, "y": {"field": "value", "type": "quantitative", "axis": {"orient": "left", "title": null, "labels": false, "domain": false, "tickSize": 3, "values": [200000,400000,600000,800000,1200000,1400000,1600000,1800000,2200000,2400000,2600000,2800000,3200000,3400000,3600000,3800000]}}, "y2": {"field": "upper"}}},
                {"data": {"name": "cBars"}, "mark": {"type": "tick", "color": "#222", "size": 10, "thickness": 1.2},
                 "encoding": {"x": {"field": "virus", "type": "nominal"}, "y": {"field": "upper", "type": "quantitative", "axis": null}}},
                {"data": {"name": "cBrackets"}, "mark": {"type": "rule", "color": "#777", "strokeWidth": 1.2},
                 "encoding": {"x": {"field": "x1", "type": "nominal"}, "x2": {"field": "x2"}, "y": {"field": "top", "type": "quantitative", "axis": null}}},
                {"data": {"name": "cBrackets"}, "mark": {"type": "rule", "color": "#777", "strokeWidth": 1.2},
                 "encoding": {"x": {"field": "x1", "type": "nominal"}, "y": {"field": "left", "type": "quantitative", "axis": null}, "y2": {"field": "top"}}},
                {"data": {"name": "cBrackets"}, "mark": {"type": "rule", "color": "#777", "strokeWidth": 1.2},
                 "encoding": {"x": {"field": "x2", "type": "nominal"}, "y": {"field": "right", "type": "quantitative", "axis": null}, "y2": {"field": "top"}}},
                {"data": {"name": "cBrackets"}, "mark": {"type": "text", "fontSize": 11, "baseline": "bottom", "dy": 0},
                 "encoding": {"x": {"field": "x1", "type": "nominal", "bandPosition": 1.25}, "y": {"field": "top", "type": "quantitative", "axis": null}, "text": {"field": "label"}}},
                {"data": {"name": "cGroups"}, "mark": {"type": "rule", "color": "#888", "strokeWidth": 1.2},
                 "encoding": {"x": {"field": "start", "type": "nominal", "bandPosition": 0}, "x2": {"field": "end", "bandPosition": 1}, "y": {"datum": -160000, "type": "quantitative", "axis": null}}},
                {"data": {"name": "cGroups"}, "transform": [{"filter": "datum.kind == 'pair'"}], "mark": {"type": "text", "fontSize": 12.5, "fontWeight": "bold", "baseline": "top"},
                 "encoding": {"x": {"field": "start", "type": "nominal", "bandPosition": 1.25}, "y": {"datum": -200000, "type": "quantitative", "axis": null}, "text": {"field": "label"}}},
                {"data": {"name": "cGroups"}, "transform": [{"filter": "datum.kind == 'mid'"}], "mark": {"type": "text", "fontSize": 12.5, "fontWeight": "bold", "baseline": "top"},
                 "encoding": {"x": {"field": "at", "type": "nominal", "bandPosition": 0.5}, "y": {"datum": -200000, "type": "quantitative", "axis": null}, "text": {"field": "label"}}},
                {"data": {"name": "cGroups"}, "transform": [{"filter": "datum.kind == 'left'"}], "mark": {"type": "text", "fontSize": 12.5, "fontWeight": "bold", "baseline": "top", "align": "left", "lineBreak": "\n", "lineHeight": 14},
                 "encoding": {"x": {"field": "at", "type": "nominal", "bandPosition": 0.36}, "y": {"datum": -200000, "type": "quantitative", "axis": null}, "text": {"field": "label"}}},
                {"data": {"name": "header"}, "mark": {"type": "text", "fontSize": 15, "fontWeight": "bold", "baseline": "middle"},
                 "encoding": {"x": {"datum": "Ad5.GE11.KO1", "type": "nominal", "bandPosition": 1.25}, "y": {"datum": 4440000, "type": "quantitative", "axis": null}, "text": {"value": "OVCAR3"}}}
              ]
            },
            {
              "width": 300, "height": 201,
              "title": {"text": "D", "anchor": "start", "frame": "bounds", "fontSize": 24, "offset": 0, "dy": 18, "dx": -9},
              "resolve": {"axis": {"y": "independent"}},
              "layer": [
                {"data": {"name": "dBars"}, "mark": {"type": "bar", "stroke": "#222", "strokeWidth": 1},
                 "encoding": {
                   "x": {"field": "virus", "type": "nominal", "scale": {"domain": ["Ad5.Luc","Ad5.KO1","Ad5.GE11","Ad5.GE11.KO1","gap","Ad5.scramble","Ad5.M*","Ad5.M*.KO1","Ad5.LS","Ad5.LS.KO1"], "paddingInner": 0.35, "paddingOuter": 0.175}, "axis": {"title": null, "ticks": false, "labels": false}},
                   "y": {"field": "value", "type": "quantitative", "scale": {"domain": [0, 40000], "nice": false}, "axis": {"orient": "left", "title": "RLU/mg protein", "titleFontSize": 12, "titleFontWeight": "normal", "values": [0,10000,20000,30000,40000], "labelExpr": "datum.value == 0 ? '0' : format(datum.value / 10000, '.1f') + '×10⁴'", "labelFontSize": 11.5, "labelOverlap": false, "tickSize": 5}},
                   "color": {"field": "virus", "type": "nominal", "scale": {"domain": ["Ad5.Luc","Ad5.KO1","Ad5.GE11","Ad5.GE11.KO1","Ad5.scramble","Ad5.M*","Ad5.M*.KO1","Ad5.LS","Ad5.LS.KO1"], "range": ["#1b1b1b","#8c8c8c","#3a3a3a","#858585","#848484","#d6d6d6","#a3a3a3","#ffffff","#d9d9d9"]}, "legend": null}
                 }},
                {"data": {"name": "dBars"}, "mark": {"type": "rule", "color": "#222", "strokeWidth": 1.2},
                 "encoding": {"x": {"field": "virus", "type": "nominal"}, "y": {"field": "value", "type": "quantitative", "axis": {"orient": "left", "title": null, "labels": false, "domain": false, "tickSize": 3, "values": [2000,4000,6000,8000,12000,14000,16000,18000,22000,24000,26000,28000,32000,34000,36000,38000]}}, "y2": {"field": "upper"}}},
                {"data": {"name": "dBars"}, "mark": {"type": "tick", "color": "#222", "size": 12, "thickness": 1.2},
                 "encoding": {"x": {"field": "virus", "type": "nominal"}, "y": {"field": "upper", "type": "quantitative", "axis": null}}},
                {"data": {"name": "dBars"}, "mark": {"type": "text", "fontSize": 10, "baseline": "bottom", "dy": -2},
                 "encoding": {"x": {"field": "virus", "type": "nominal"}, "y": {"field": "upper", "type": "quantitative", "axis": null}, "text": {"field": "sig"}}},
                {"data": {"name": "dBrackets"}, "mark": {"type": "rule", "color": "#222", "strokeWidth": 1.2},
                 "encoding": {"x": {"field": "x1", "type": "nominal"}, "x2": {"field": "x2"}, "y": {"field": "top", "type": "quantitative", "axis": null}}},
                {"data": {"name": "dBrackets"}, "mark": {"type": "rule", "color": "#222", "strokeWidth": 1.2},
                 "encoding": {"x": {"field": "x1", "type": "nominal"}, "y": {"field": "left", "type": "quantitative", "axis": null}, "y2": {"field": "top"}}},
                {"data": {"name": "dBrackets"}, "mark": {"type": "rule", "color": "#222", "strokeWidth": 1.2},
                 "encoding": {"x": {"field": "x2", "type": "nominal"}, "y": {"field": "right", "type": "quantitative", "axis": null}, "y2": {"field": "top"}}},
                {"data": {"name": "dBrackets"}, "mark": {"type": "text", "fontSize": 11, "baseline": "bottom", "dy": 4},
                 "encoding": {"x": {"field": "mid", "type": "nominal"}, "y": {"field": "top", "type": "quantitative", "axis": null}, "text": {"field": "label"}}},
                {"data": {"name": "dBrackets"}, "mark": {"type": "text", "fontSize": 12, "fontWeight": "bold", "baseline": "bottom", "dy": -7},
                 "encoding": {"x": {"field": "mid", "type": "nominal"}, "y": {"field": "top", "type": "quantitative", "axis": null}, "text": {"field": "note"}}},
                {"data": {"name": "dGroups"}, "mark": {"type": "rule", "color": "#888", "strokeWidth": 1.2},
                 "encoding": {"x": {"field": "start", "type": "nominal", "bandPosition": 0}, "x2": {"field": "end", "bandPosition": 1}, "y": {"datum": -1790, "type": "quantitative", "axis": null}}},
                {"data": {"name": "dGroups"}, "transform": [{"filter": "datum.kind == 'pair'"}], "mark": {"type": "text", "fontSize": 12, "fontWeight": "bold", "baseline": "top"},
                 "encoding": {"x": {"field": "start", "type": "nominal", "bandPosition": 1.25}, "y": {"datum": -2790, "type": "quantitative", "axis": null}, "text": {"field": "label"}}},
                {"data": {"name": "dGroups"}, "transform": [{"filter": "datum.kind == 'mid'"}], "mark": {"type": "text", "fontSize": 12, "fontWeight": "bold", "baseline": "top"},
                 "encoding": {"x": {"field": "at", "type": "nominal", "bandPosition": 0.5}, "y": {"datum": -2790, "type": "quantitative", "axis": null}, "text": {"field": "label"}}},
                {"data": {"name": "dGroups"}, "transform": [{"filter": "datum.kind == 'left'"}], "mark": {"type": "text", "fontSize": 12, "fontWeight": "bold", "baseline": "top", "align": "left", "lineBreak": "\n", "lineHeight": 14},
                 "encoding": {"x": {"field": "at", "type": "nominal", "bandPosition": 0.05}, "y": {"datum": -2790, "type": "quantitative", "axis": null}, "text": {"field": "label"}}},
                {"data": {"name": "header"}, "mark": {"type": "text", "fontSize": 15, "fontWeight": "bold", "baseline": "middle"},
                 "encoding": {"x": {"datum": "gap", "type": "nominal"}, "y": {"datum": 44780, "type": "quantitative", "axis": null}, "text": {"value": "T24, hFX -"}}}
              ]
            }
          ]
        },
        {
          "spacing": 25,
          "resolve": {"scale": {"color": "independent"}, "legend": {"color": "independent"}},
          "hconcat": [
            {
              "width": 292, "height": 193,
              "title": {"text": "E", "anchor": "start", "frame": "bounds", "fontSize": 26, "offset": 0, "dy": 14},
              "resolve": {"axis": {"y": "independent"}},
              "layer": [
                {"data": {"name": "eBars"}, "mark": {"type": "bar", "stroke": "#222", "strokeWidth": 1},
                 "encoding": {
                   "x": {"field": "key", "type": "nominal", "scale": {"domain": ["OVCAR3|Ad5.Luc|-","OVCAR3|Ad5.Luc|+","OVCAR3|Ad5.KO1|-","OVCAR3|Ad5.KO1|+","gap","T24|Ad5.Luc|-","T24|Ad5.Luc|+","T24|Ad5.KO1|-","T24|Ad5.KO1|+"], "paddingInner": 0.32, "paddingOuter": 0.16}, "axis": {"title": null, "ticks": false, "labelAngle": 0, "labelExpr": "datum.label == 'gap' ? '' : split(datum.label, '|')[2]", "labelFontSize": 14, "labelPadding": 3}},
                   "y": {"field": "value", "type": "quantitative", "scale": {"domain": [0, 400000], "nice": false}, "axis": {"orient": "left", "title": "RLU/mg protein", "titleFontSize": 11.5, "titleFontWeight": "normal", "values": [0,100000,200000,300000,400000], "labelExpr": "datum.value == 0 ? '0' : format(datum.value / 100000, '.1f') + '×10⁵'", "labelFontSize": 12, "labelOverlap": false, "tickSize": 5}},
                   "color": {"field": "virus", "type": "nominal", "scale": {"domain": ["Ad5.Luc","Ad5.KO1"], "range": ["#1b1b1b","#8e8e8e"]}, "legend": null}
                 }},
                {"data": {"name": "eBars"}, "mark": {"type": "rule", "color": "#222", "strokeWidth": 1.2},
                 "encoding": {"x": {"field": "key", "type": "nominal"}, "y": {"field": "value", "type": "quantitative", "axis": {"orient": "left", "title": null, "labels": false, "domain": false, "tickSize": 3, "values": [20000,40000,60000,80000,120000,140000,160000,180000,220000,240000,260000,280000,320000,340000,360000,380000]}}, "y2": {"field": "upper"}}},
                {"data": {"name": "eBars"}, "mark": {"type": "tick", "color": "#222", "size": 14, "thickness": 1.2},
                 "encoding": {"x": {"field": "key", "type": "nominal"}, "y": {"field": "upper", "type": "quantitative", "axis": null}}},
                {"data": {"name": "eBars"}, "mark": {"type": "text", "fontSize": 10, "baseline": "bottom", "dy": -2},
                 "encoding": {"x": {"field": "key", "type": "nominal"}, "y": {"field": "upper", "type": "quantitative", "axis": null}, "text": {"field": "sig"}}},
                {"data": {"name": "header"}, "mark": {"type": "text", "fontSize": 13.5, "fontWeight": "bold", "baseline": "middle", "align": "left"},
                 "encoding": {"x": {"datum": "T24|Ad5.KO1|+", "type": "nominal", "bandPosition": 1.0}, "y": {"datum": -20000, "type": "quantitative", "axis": null}, "text": {"value": "hFX"}}},
                {"data": {"name": "header"}, "mark": {"type": "text", "fontSize": 15, "fontWeight": "bold", "baseline": "middle"},
                 "encoding": {"x": {"datum": "OVCAR3|Ad5.Luc|+", "type": "nominal", "bandPosition": 1.25}, "y": {"datum": 466000, "type": "quantitative", "axis": null}, "text": {"value": "OVCAR3"}}},
                {"data": {"name": "header"}, "mark": {"type": "text", "fontSize": 15, "fontWeight": "bold", "baseline": "middle"},
                 "encoding": {"x": {"datum": "T24|Ad5.Luc|+", "type": "nominal", "bandPosition": 1.25}, "y": {"datum": 466000, "type": "quantitative", "axis": null}, "text": {"value": "T24"}}}
              ]
            },
            {
              "width": 288, "height": 187,
              "title": {"text": "F", "anchor": "start", "frame": "bounds", "fontSize": 26, "offset": 0, "dy": 11, "dx": 0},
              "resolve": {"axis": {"y": "independent"}},
              "layer": [
                {"data": {"name": "fBars"}, "mark": {"type": "bar", "stroke": "#222", "strokeWidth": 1},
                 "encoding": {
                   "x": {"field": "virus", "type": "nominal", "scale": {"domain": ["Ad5.Luc","Ad5.KO1","Ad5.GE11","Ad5.GE11.KO1","gap","Ad5.scramble","Ad5.M*","Ad5.M*.KO1","Ad5.LS","Ad5.LS.KO1"], "paddingInner": 0.36, "paddingOuter": 0.18}, "axis": {"title": null, "ticks": false, "labels": false}},
                   "y": {"field": "value", "type": "quantitative", "scale": {"domain": [0, 400000], "nice": false}, "axis": {"orient": "left", "title": "RLU/mg protein", "titleFontSize": 12, "titleFontWeight": "normal", "titlePadding": 11, "values": [0,100000,200000,300000,400000], "labelExpr": "datum.value == 0 ? '0' : format(datum.value / 100000, '.1f') + '×10⁵'", "labelFontSize": 12, "labelOverlap": false, "tickSize": 5}},
                   "color": {"field": "virus", "type": "nominal", "scale": {"domain": ["Ad5.Luc","Ad5.KO1","Ad5.GE11","Ad5.GE11.KO1","Ad5.scramble","Ad5.M*","Ad5.M*.KO1","Ad5.LS","Ad5.LS.KO1"], "range": ["#1b1b1b","#9a9a9a","#3a3a3a","#8c8c8c","#848484","#d6d6d6","#a8a8a8","#ffffff","#d9d9d9"]}, "legend": null}
                 }},
                {"data": {"name": "fBars"}, "mark": {"type": "rule", "color": "#222", "strokeWidth": 1.2},
                 "encoding": {"x": {"field": "virus", "type": "nominal"}, "y": {"field": "value", "type": "quantitative", "axis": {"orient": "left", "title": null, "labels": false, "domain": false, "tickSize": 3, "values": [20000,40000,60000,80000,120000,140000,160000,180000,220000,240000,260000,280000,320000,340000,360000,380000]}}, "y2": {"field": "upper"}}},
                {"data": {"name": "fBars"}, "mark": {"type": "tick", "color": "#222", "size": 12, "thickness": 1.2},
                 "encoding": {"x": {"field": "virus", "type": "nominal"}, "y": {"field": "upper", "type": "quantitative", "axis": null}}},
                {"data": {"name": "fBars"}, "mark": {"type": "text", "fontSize": 10, "baseline": "bottom", "dy": 0},
                 "encoding": {"x": {"field": "virus", "type": "nominal"}, "y": {"field": "upper", "type": "quantitative", "axis": null}, "text": {"field": "sig"}}},
                {"data": {"name": "fGroups"}, "mark": {"type": "rule", "color": "#222", "strokeWidth": 1.2},
                 "encoding": {"x": {"field": "start", "type": "nominal", "bandPosition": 0}, "x2": {"field": "end", "bandPosition": 1}, "y": {"datum": -22000, "type": "quantitative", "axis": null}}},
                {"data": {"name": "fGroups"}, "transform": [{"filter": "datum.kind == 'pair'"}], "mark": {"type": "text", "fontSize": 11.5, "fontWeight": "bold", "baseline": "top"},
                 "encoding": {"x": {"field": "start", "type": "nominal", "bandPosition": 1.25}, "y": {"datum": -30000, "type": "quantitative", "axis": null}, "text": {"field": "label"}}},
                {"data": {"name": "fGroups"}, "transform": [{"filter": "datum.kind == 'mid'"}], "mark": {"type": "text", "fontSize": 11.5, "fontWeight": "bold", "baseline": "top"},
                 "encoding": {"x": {"field": "at", "type": "nominal", "bandPosition": 0.5}, "y": {"datum": -30000, "type": "quantitative", "axis": null}, "text": {"field": "label"}}},
                {"data": {"name": "fGroups"}, "transform": [{"filter": "datum.kind == 'left'"}], "mark": {"type": "text", "fontSize": 11.5, "fontWeight": "bold", "baseline": "top", "align": "left", "lineBreak": "\n", "lineHeight": 12.5},
                 "encoding": {"x": {"field": "at", "type": "nominal", "bandPosition": 0.15}, "y": {"datum": -30000, "type": "quantitative", "axis": null}, "text": {"field": "label"}}},
                {"data": {"name": "header"}, "mark": {"type": "text", "fontSize": 15, "fontWeight": "bold", "baseline": "middle"},
                 "encoding": {"x": {"datum": "gap", "type": "nominal"}, "y": {"datum": 448000, "type": "quantitative", "axis": null}, "text": {"value": "T24, hFX +"}}}
              ]
            }
          ]
        }
      ]
    }
  ]
}
